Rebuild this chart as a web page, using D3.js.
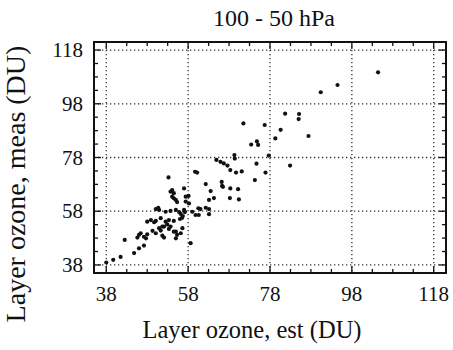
<!DOCTYPE html>
<html><head><meta charset="utf-8">
<script src="https://cdn.jsdelivr.net/npm/d3@7"></script>
<style>body{margin:0;background:#fff}svg{display:block}text{font-family:"Liberation Serif","Times New Roman",serif;fill:#111}</style>
</head><body><svg id="c" width="453" height="350"></svg>
<script>
const title = "100 - 50 hPa";
const xTitle = "Layer ozone, est (DU)";
const yTitle = "Layer ozone, meas (DU)";
const tickValues = [38, 58, 78, 98, 118];
const minorStep = 5;
const estX = [104.4,94.5,90.4,81.7,85.1,85.0,76.7,71.5,80.6,79.3,87.4,73.4,74.8,75.1,77.7,74.7,82.9,76.9,74.3,69.3,69.4,64.9,65.9,66.7,67.6,68.3,69.7,71.1,59.7,60.2,53.2,62.3,66.2,66.3,63.5,68.3,70.2,63.1,64.3,68.2,70.4,57.0,57.4,58.1,58.2,54.1,53.7,54.5,54.1,54.5,55.0,55.3,57.4,59.0,60.5,61.0,62.3,63.1,60.6,63.1,59.8,58.6,55.8,56.2,56.7,57.2,56.5,57.0,52.5,53.7,55.0,50.1,50.9,50.7,51.3,52.5,53.3,54.5,56.0,48.0,48.9,49.7,50.1,52.1,52.9,51.7,53.7,50.9,51.3,53.3,55.0,56.6,54.5,55.3,55.0,56.2,49.3,50.1,51.7,52.1,46.0,46.4,45.6,47.2,47.7,48.0,42.5,47.2,46.0,44.8,38.0,39.7,41.5,66.5];
const measY = [109.7,105.0,102.3,94.3,94.2,92.3,90.1,90.7,88.3,85.1,86.0,82.8,84.0,82.7,78.7,75.7,75.0,72.4,69.6,78.9,77.6,77.1,76.4,75.8,75.0,73.3,72.4,72.8,72.7,72.4,70.6,68.1,68.9,67.4,65.5,66.5,66.2,62.2,62.9,62.9,62.4,66.5,63.4,63.7,60.9,65.9,65.3,64.7,63.4,62.8,62.2,61.4,61.6,57.8,59.1,58.8,59.3,58.8,56.6,56.9,56.6,46.1,57.7,57.0,56.2,57.7,55.5,58.5,57.8,58.1,58.5,58.8,58.5,59.3,55.4,54.1,54.7,54.4,55.1,54.1,54.7,53.9,54.4,52.3,53.1,52.3,52.3,51.7,50.8,51.4,50.4,51.7,50.4,49.2,47.9,49.8,50.7,49.8,48.9,48.2,49.2,49.8,48.2,48.5,47.9,49.4,47.3,45.2,44.2,42.4,38.9,39.9,41.0,67.1];

const svg = d3.select("#c");
const L = 94, R = 446, T = 42, B = 273;
const x = d3.scaleLinear().domain([35, 121]).range([L, R]);
const y = d3.scaleLinear().domain([35, 121]).range([B, T]);
const minor = d3.range(38, 119, minorStep);

// grid
const g = svg.append("g");
g.selectAll("line.gx").data(tickValues).join("line")
  .attr("x1", d => x(d)).attr("x2", d => x(d)).attr("y1", T).attr("y2", B)
  .attr("stroke", "#333").attr("stroke-width", 1.3).attr("stroke-dasharray", "1.3,2.7");
g.selectAll("line.gy").data(tickValues).join("line")
  .attr("y1", d => y(d)).attr("y2", d => y(d)).attr("x1", L).attr("x2", R)
  .attr("stroke", "#333").attr("stroke-width", 1.3).attr("stroke-dasharray", "1.3,2.7");

// ticks inward on all sides
const tl = d => tickValues.includes(d) ? 7 : 4;
const tk = svg.append("g").attr("stroke", "#111").attr("stroke-width", 1.3);
minor.forEach(d => {
  tk.append("line").attr("x1", x(d)).attr("x2", x(d)).attr("y1", B).attr("y2", B - tl(d));
  tk.append("line").attr("x1", x(d)).attr("x2", x(d)).attr("y1", T).attr("y2", T + tl(d));
  tk.append("line").attr("y1", y(d)).attr("y2", y(d)).attr("x1", L).attr("x2", L + tl(d));
  tk.append("line").attr("y1", y(d)).attr("y2", y(d)).attr("x1", R).attr("x2", R - tl(d));
});

// frame
svg.append("rect").attr("x", L).attr("y", T).attr("width", R - L).attr("height", B - T)
  .attr("fill", "none").attr("stroke", "#111").attr("stroke-width", 2);

// tick labels
svg.selectAll("text.xl").data(tickValues).join("text")
  .attr("x", d => x(d)).attr("y", 301).attr("text-anchor", "middle")
  .attr("font-size", 21).text(d => d);
svg.selectAll("text.yl").data(tickValues).join("text")
  .attr("x", 83).attr("y", d => y(d) + 7).attr("text-anchor", "end")
  .attr("font-size", 21).text(d => d);

// titles
svg.append("text").attr("x", 274).attr("y", 26).attr("text-anchor", "middle")
  .attr("font-size", 24).text(title);
svg.append("text").attr("x", 252).attr("y", 338).attr("text-anchor", "middle")
  .attr("font-size", 24.5).text(xTitle);
svg.append("text").attr("transform", "translate(25,184) rotate(-90)").attr("text-anchor", "middle")
  .attr("font-size", 28).text(yTitle);

// points
svg.append("g").selectAll("circle").data(estX.map((v, i) => [v, measY[i]])).join("circle")
  .attr("cx", d => x(d[0])).attr("cy", d => y(d[1])).attr("r", 2.1).attr("fill", "#111");
</script></body></html>
